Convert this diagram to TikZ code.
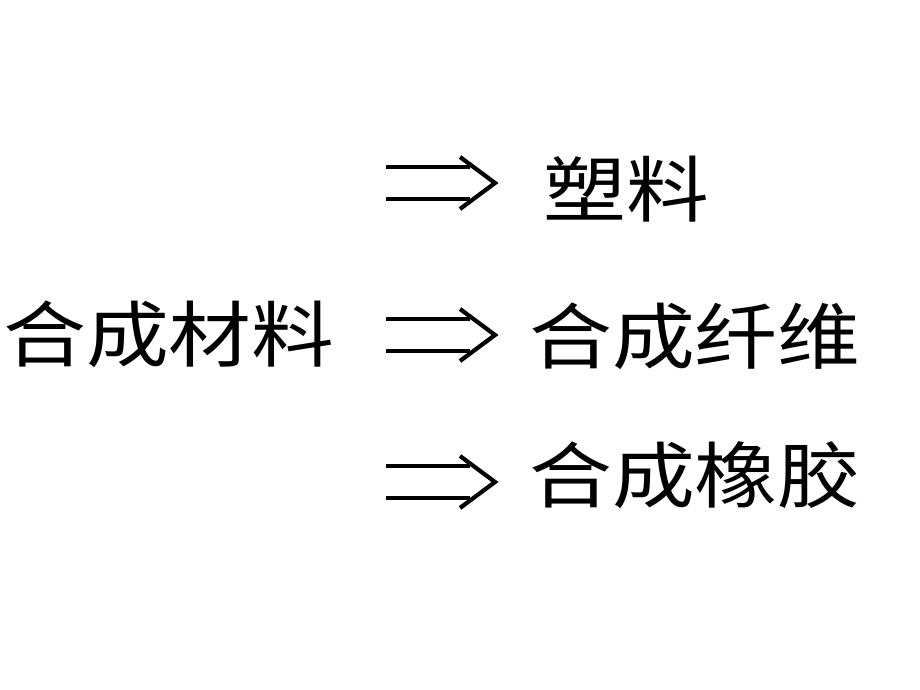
\documentclass[tikz,border=0pt]{standalone}
\usepackage{fontspec}
\newfontfamily\cjk[FakeStretch=1.15]{Noto Sans CJK SC}
\usepackage{tikz}
\usetikzlibrary{arrows.meta,positioning}

\begin{document}
\begin{tikzpicture}[x=1pt,y=-1pt,
    word/.style={font=\cjk\fontsize{72}{76}\selectfont, inner sep=0pt},
    rail/.style={line width=3.6pt},
    chevron/.style={line width=4.2pt}]
        \useasboundingbox (0,0) rectangle (920,690);
        \node[word] (whole) at (169,334) {合成材料};
        \node[word,anchor=west] (plastic) at (543,189) {塑料};
        \node[word,anchor=west] (fibre) at (529,336) {合成纤维};
        \node[word,anchor=west] (rubber) at (529,475) {合成橡胶};
        \coordinate (s1) at (386,183); \coordinate (e1) at (495,183);
        \coordinate (s2) at (386,335); \coordinate (e2) at (495,335);
        \coordinate (s3) at (386,482); \coordinate (e3) at (495,482);
        % double arrows
        \foreach \r in {1,2,3} {
          \draw[rail] ([yshift=16pt]s\r) -- ([xshift=-25pt,yshift=16pt]e\r);
          \draw[rail] ([yshift=-16pt]s\r) -- ([xshift=-25pt,yshift=-16pt]e\r);
          \draw[chevron] ([xshift=-35pt,yshift=26pt]e\r) -- (e\r) -- ([xshift=-35pt,yshift=-26pt]e\r);
        }
      \end{tikzpicture}
\end{document}
